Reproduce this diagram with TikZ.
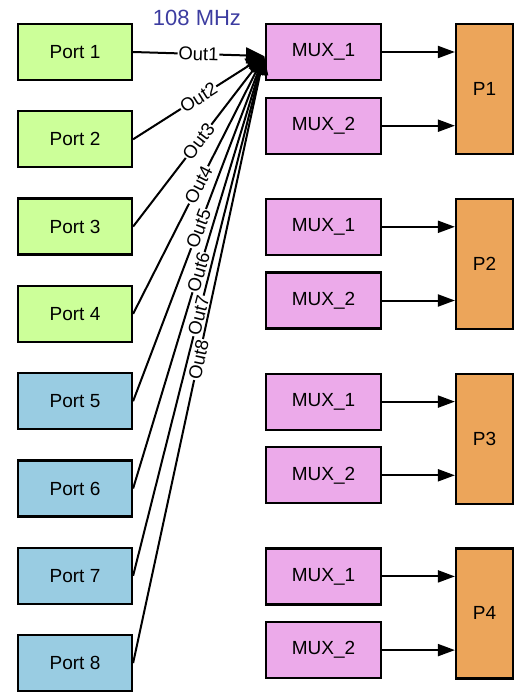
\documentclass[tikz,border=0pt]{standalone}
\usepackage{fontspec}
\setmainfont{Liberation Sans}
\usetikzlibrary{arrows.meta,calc}
\definecolor{PortClrA}{RGB}{204,255,153}
\definecolor{PortClrB}{RGB}{153,204,226}
\definecolor{MuxClr}{RGB}{236,170,234}
\definecolor{PClr}{RGB}{236,165,90}
\definecolor{FreqClr}{RGB}{60,60,160}

\begin{document}
\begin{tikzpicture}[x=1pt,y=-1pt,
  box/.style={draw=black,line width=2.2pt,inner sep=0pt,font=\fontsize{19}{21}\selectfont},
  port/.style={box,minimum width=114pt,minimum height=56pt},
  mux/.style={box,fill=MuxClr,minimum width=115pt,minimum height=56pt},
  pbox/.style={box,fill=PClr,minimum width=57pt,minimum height=130pt},
  fan/.style={line width=2pt,-{Triangle[length=18pt,width=16pt]}},
  feed/.style={line width=2pt,-{Triangle[length=17pt,width=12pt]}},
  outlbl/.style={fill=white,inner sep=0.8pt,sloped,font=\fontsize{18.5}{20}\selectfont}]
\useasboundingbox (0,0) rectangle (520,692);

% input ports
\node[port,fill=PortClrA] (port1) at (75,52) {Port 1};
\node[port,fill=PortClrA] (port2) at (75,139.3) {Port 2};
\node[port,fill=PortClrA] (port3) at (75,226.6) {Port 3};
\node[port,fill=PortClrA] (port4) at (75,313.9) {Port 4};
\node[port,fill=PortClrB] (port5) at (75,401.2) {Port 5};
\node[port,fill=PortClrB] (port6) at (75,488.5) {Port 6};
\node[port,fill=PortClrB] (port7) at (75,575.8) {Port 7};
\node[port,fill=PortClrB] (port8) at (75,663.1) {Port 8};

% multiplexers
\node[mux] (mux11) at (323.5,52) {MUX\_1};
\node[mux] (mux12) at (323.5,125.7) {MUX\_2};
\node[mux] (mux21) at (323.5,226.8) {MUX\_1};
\node[mux] (mux22) at (323.5,300.5) {MUX\_2};
\node[mux] (mux31) at (323.5,401.6) {MUX\_1};
\node[mux] (mux32) at (323.5,475.3) {MUX\_2};
\node[mux] (mux41) at (323.5,576.4) {MUX\_1};
\node[mux] (mux42) at (323.5,650.1) {MUX\_2};

% outputs
\node[pbox] (p1) at (484.5,89) {P1};
\node[pbox] (p2) at (484.5,263.8) {P2};
\node[pbox] (p3) at (484.5,438.6) {P3};
\node[pbox] (p4) at (484.5,613.4) {P4};

\node[text=FreqClr,font=\fontsize{22}{24}\selectfont] (freq) at (197,18) {108 MHz};

\coordinate (hub) at (264,56);

\draw[fan] (port1.east) -- node[outlbl]{Out1} (hub);
\draw[fan] (port2.east) -- node[outlbl]{Out2} (hub);
\draw[fan] (port3.east) -- node[outlbl]{Out3} (hub);
\draw[fan] (port4.east) -- node[outlbl]{Out4} (hub);
\draw[fan] (port5.east) -- node[outlbl]{Out5} (hub);
\draw[fan] (port6.east) -- node[outlbl]{Out6} (hub);
\draw[fan] (port7.east) -- node[outlbl]{Out7} (hub);
\draw[fan] (port8.east) -- node[outlbl]{Out8} (hub);

\draw[feed] (mux11.east) -- (mux11.east -| p1.west);
\draw[feed] (mux12.east) -- (mux12.east -| p1.west);
\draw[feed] (mux21.east) -- (mux21.east -| p2.west);
\draw[feed] (mux22.east) -- (mux22.east -| p2.west);
\draw[feed] (mux31.east) -- (mux31.east -| p3.west);
\draw[feed] (mux32.east) -- (mux32.east -| p3.west);
\draw[feed] (mux41.east) -- (mux41.east -| p4.west);
\draw[feed] (mux42.east) -- (mux42.east -| p4.west);

\end{tikzpicture}
\end{document}
